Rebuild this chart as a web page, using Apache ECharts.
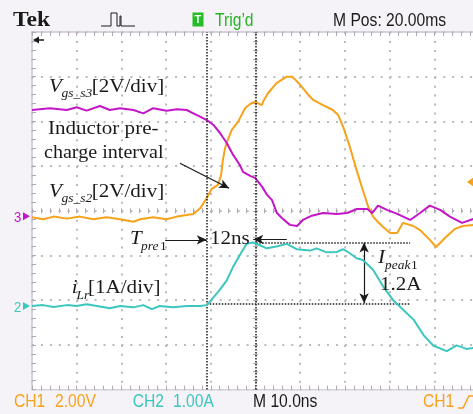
<!DOCTYPE html>
<html>
<head>
<meta charset="utf-8">
<script src="https://cdn.jsdelivr.net/npm/echarts@6/dist/echarts.min.js"></script>
<style>
  html, body { margin: 0; padding: 0; background: #ffffff; }
  #chart { width: 473px; height: 414px; }
</style>
</head>
<body>
<div id="chart"></div>
<script>
// scope setup (positions are in divisions from screen centre)
const ch1VoltsPerDiv = 2;   // Vgs_s2 (orange)
const ch2AmpsPerDiv = 1;    // iLr (cyan)
const ch3VoltsPerDiv = 2;   // Vgs_s3 (magenta)
const ch1Ground = -0.12;
const ch2Ground = -2.13;
const ch3Ground = -0.12;
const trigLevel = 1.53;     // V, ch1

// time axis in ns relative to screen centre, 10 ns/div
const tS3 = [-50, -46.0, -42.2, -40.0, -37.8, -34.8, -32.6, -30.3, -27.3, -25.1, -22.9, -19.9, -17.6, -15.4, -13.9, -12.4, -10.9, -9.4, -7.9, -6.4, -5.0, -3.5, -2.8, -1.2, -0.1, 1.5, 2.6, 3.7, 4.8, 5.9, 7.7, 9.3, 10.6, 12.6, 15.1, 18.2, 20.5, 22.7, 25.0, 26.1, 27.4, 29.4, 31.7, 34.6, 36.8, 39.0, 41.3, 43.5, 46.2, 48.7, 50.0];
const vgsS3 = [4.75, 4.83, 4.75, 4.87, 4.72, 4.93, 4.75, 4.83, 4.75, 4.60, 4.83, 4.72, 4.78, 4.75, 4.60, 4.45, 4.30, 4.08, 3.71, 3.26, 2.74, 2.29, 1.98, 1.80, 1.71, 1.31, 0.95, 0.72, 0.14, -0.08, -0.39, -0.44, -0.17, 0.02, 0.14, 0.10, 0.14, 0.32, 0.32, 0.14, 0.47, 0.28, 0.10, -0.17, 0.14, 0.47, 0.28, -0.02, -0.30, -0.13, -0.08];

const tS2 = [-50, -47.5, -45.2, -42.2, -39.3, -36.3, -33.3, -30.3, -27.3, -25.8, -22.9, -19.9, -17.6, -15.4, -13.9, -12.4, -10.9, -9.8, -8.4, -7.7, -7.3, -6.8, -6.2, -5.3, -3.9, -2.3, -1.2, -0.1, 1.4, 1.9, 2.8, 4.7, 7.0, 8.2, 8.8, 10.0, 11.5, 12.9, 15.1, 17.3, 18.5, 19.6, 21.1, 22.6, 24.0, 25.2, 26.3, 27.4, 28.5, 30.1, 31.7, 33.0, 35.3, 36.8, 39.0, 40.4, 42.6, 44.6, 46.4, 48.7, 50.0];
const vgsS2 = [-0.05, -0.14, -0.02, -0.11, -0.02, -0.14, -0.05, -0.14, -0.25, -0.14, -0.05, -0.14, -0.02, 0.05, 0.10, 0.35, 0.81, 1.22, 1.40, 1.84, 2.51, 3.05, 3.41, 3.86, 4.23, 4.84, 5.02, 5.12, 4.97, 5.20, 5.50, 5.95, 6.24, 6.24, 6.13, 5.87, 5.50, 5.20, 4.97, 4.75, 4.53, 4.00, 3.11, 2.07, 1.17, 0.43, -0.02, -0.26, -0.47, -0.75, -0.75, -0.30, -0.44, -0.62, -1.06, -1.38, -0.93, -0.57, -0.44, -0.39, -0.39];

const tLr = [-50, -47.5, -45.2, -42.2, -40.0, -37.8, -35.5, -32.6, -30.3, -27.3, -25.1, -23.2, -21.4, -18.4, -15.4, -12.4, -10.9, -10.2, -8.0, -6.4, -5.0, -3.5, -2.0, -0.6, 1.0, 2.5, 4.7, 7.0, 9.2, 12.2, 13.7, 15.9, 18.2, 19.6, 21.1, 22.6, 24.0, 26.3, 28.6, 30.8, 33.1, 35.4, 37.6, 39.8, 42.8, 45.0, 47.2, 48.7, 50.0];
const iLr = [0, 0.02, -0.02, 0.02, 0, 0.04, 0, -0.05, 0, -0.03, 0.02, -0.07, 0, -0.03, 0, 0, 0.02, 0.10, 0.36, 0.58, 0.88, 1.14, 1.39, 1.42, 1.36, 1.29, 1.33, 1.39, 1.27, 1.24, 1.29, 1.20, 1.21, 1.27, 1.18, 1.07, 1.03, 0.81, 0.43, 0.13, -0.09, -0.31, -0.65, -0.89, -1.01, -0.88, -0.96, -0.94, -0.94];

// cursors / annotations (ns, A or V)
const cursorT = [-10.9, 0];
const iPeakLevel = 1.42;
const iBaseLevel = 0.06;
const levelEndT = 34.6;
const peakArrowT = 24.3;
const tpreArrowL = [-20.2, -10.9, 1.48];  // from, to, level (A)
const tpreArrowR = [7.0, -0.5, 1.49];
const inductorArrow = [[-16.9, 2.37], [-5.9, 1.25]]; // ch1 volts

const d1 = v => ch1Ground + v / ch1VoltsPerDiv;
const d2 = a => ch2Ground + a / ch2AmpsPerDiv;
const d3 = v => ch3Ground + v / ch3VoltsPerDiv;

const ORANGE = '#f7a21b', CYAN = '#3cc6c0', MAGENTA = '#c316c9', INK = '#1a1a1a';
const FRAME = '#f6f3f8', TICK = '#b0a9b5';
const DIV = 44.7;

const chart = echarts.init(document.getElementById('chart'));

// graticule: four stacked grids on the same rect, one x and one y axis each
// 0 = bottom/left border + dots, 1 = top/right border, 2 and 3 = centre cross
const screen = { left: 32, top: 32, width: DIV * 10, height: DIV * 8, outerBoundsMode: 'none' };
const grids = [0, 1, 2, 3].map(() => Object.assign({}, screen));

function gAxis(dim, grid, pos, onZero, inside, len) {
  const a = {
    gridIndex: grid, type: 'value', position: pos,
    min: dim === 'x' ? -50 : -4, max: dim === 'x' ? 50 : 4, interval: dim === 'x' ? 10 : 1,
    axisLine: { show: !onZero, onZero: onZero, lineStyle: { color: '#c9c2ce', width: 1.5 } },
    axisTick: { show: true, inside: inside, length: len, lineStyle: { color: TICK } },
    minorTick: { show: true, splitNumber: 5, length: len, lineStyle: { color: TICK } },
    axisLabel: { show: false },
    splitLine: { show: false }
  };
  if (grid === 0) a.splitLine = { show: true, lineStyle: { color: '#bababa', width: 2, type: [2, DIV / 5 - 2] } };
  return a;
}
const xAxes = [gAxis('x', 0, 'bottom', false, true, 4), gAxis('x', 1, 'top', false, true, 4),
               gAxis('x', 2, 'bottom', true, false, 2.5), gAxis('x', 3, 'top', true, false, 2.5)];
const yAxes = [gAxis('y', 0, 'left', false, true, 4), gAxis('y', 1, 'right', false, true, 4),
               gAxis('y', 2, 'left', true, false, 2.5), gAxis('y', 3, 'right', true, false, 2.5)];

const lineBlack = { color: INK, width: 1.2, type: 'solid' };
const arrowEnd = (a, b) => [{ coord: a, symbol: 'none' }, { coord: b, symbol: 'arrow', symbolSize: [7, 10] }];

const option = {
  animation: false,
  backgroundColor: '#ffffff',
  grid: grids,
  xAxis: xAxes,
  yAxis: yAxes,
  series: [
    {
      name: 'Vgs_s2', type: 'line', showSymbol: false, z: 3,
      lineStyle: { color: ORANGE, width: 2 }, itemStyle: { color: ORANGE },
      data: tS2.map((t, i) => [t, d1(vgsS2[i])])
    },
    {
      name: 'Vgs_s3', type: 'line', showSymbol: false, z: 4,
      lineStyle: { color: MAGENTA, width: 2 }, itemStyle: { color: MAGENTA },
      data: tS3.map((t, i) => [t, d3(vgsS3[i])])
    },
    {
      name: 'iLr', type: 'line', showSymbol: false, z: 5,
      lineStyle: { color: CYAN, width: 2 }, itemStyle: { color: CYAN },
      data: tLr.map((t, i) => [t, d2(iLr[i])]),
      markLine: {
        silent: true, symbol: 'none', label: { show: false },
        lineStyle: { color: INK, width: 1.5, type: [1.5, 1.5] },
        data: [
          { xAxis: cursorT[0] },
          { xAxis: cursorT[1] },
          [{ coord: [cursorT[1] - 0.5, d2(iPeakLevel)] }, { coord: [levelEndT, d2(iPeakLevel)] }],
          [{ coord: [cursorT[0], d2(iBaseLevel)] }, { coord: [levelEndT, d2(iBaseLevel)] }],
          [{ coord: [peakArrowT, d2(iPeakLevel)], symbol: 'arrow', symbolSize: [7, 10] },
           { coord: [peakArrowT, d2(iBaseLevel)], symbol: 'arrow', symbolSize: [7, 10] }],
          arrowEnd([tpreArrowL[0], d2(tpreArrowL[2])], [tpreArrowL[1], d2(tpreArrowL[2])]),
          arrowEnd([tpreArrowR[0], d2(tpreArrowR[2])], [tpreArrowR[1], d2(tpreArrowR[2])]),
          arrowEnd([inductorArrow[0][0], d1(inductorArrow[0][1])], [inductorArrow[1][0], d1(inductorArrow[1][1])])
        ].map((d, i) => {
          if (i >= 4) d[0].lineStyle = lineBlack;
          return d;
        })
      }
    }
  ]
};
chart.setOption(option);

// texts and screen furniture
function txt(str, x, base, size, o) {
  o = o || {};
  return {
    type: 'text', x: x, y: base - 0.34 * size, scaleX: o.sx || 1, z: 20,
    style: {
      text: str, fill: o.fill || INK, align: 'left', verticalAlign: 'middle',
      font: (o.italic ? 'italic ' : '') + (o.bold ? 'bold ' : '') + size + 'px ' + (o.family || '"Liberation Serif", serif')
    }
  };
}
const SER = { sx: 1.08 };
const SERI = { sx: 1.08, italic: true };
const SANS = { family: '"Liberation Sans", Arial, sans-serif', sx: 0.87 };
const sans = c => Object.assign({}, SANS, { fill: c });

const px = (t, d) => chart.convertToPixel({ xAxisIndex: 0, yAxisIndex: 0 }, [t, d]);
const g3 = px(-50, d3(0)), g2 = px(-50, d2(0)), trg = px(50, d1(trigLevel));
const tri = (x, y, dir, c) => ({
  type: 'polygon', z: 20, shape: { points: dir > 0 ? [[x, y - 4], [x + 7, y], [x, y + 4]] : [[x, y - 5], [x - 7, y], [x, y + 5]] },
  style: { fill: c }
});
const band = (x, y, w, h) => ({ type: 'rect', z: 1, shape: { x: x, y: y, width: w, height: h }, style: { fill: FRAME } });

const graphic = [
  // tinted frame round the screen
  band(0, 0, 473, 31), band(0, 31, 31, 360), band(0, 390.5, 473, 24),
  // header
  txt('Tek', 13, 27.3, 21, { bold: true, sx: 1.12 }),
  { type: 'polyline', z: 20, shape: { points: [[101, 26], [111, 26], [111, 13], [117, 13], [117, 26], [120, 26], [120, 16], [121, 16], [121, 26], [135, 26]] },
    style: { stroke: INK, lineWidth: 1, fill: null } },
  { type: 'rect', z: 20, shape: { x: 192.5, y: 12.5, width: 11, height: 14 }, style: { fill: '#25bd25' } },
  txt('T', 194.5, 24, 11, { fill: '#fff', bold: true, family: '"Liberation Sans", sans-serif' }),
  txt('Trig\u2019d', 215, 26.7, 18, sans('#22b522')),
  txt('M Pos: 20.00ms', 333, 26.7, 18, sans(INK)),
  // footer
  txt('CH1', 14, 408.3, 18, sans(ORANGE)),
  txt('2.00V', 55, 408.3, 18, sans(ORANGE)),
  txt('CH2', 132.7, 408.3, 18, sans(CYAN)),
  txt('1.00A', 173, 408.3, 18, sans(CYAN)),
  txt('M 10.0ns', 253, 408.3, 18, sans(INK)),
  txt('CH1', 423, 408.3, 18, sans(ORANGE)),
  { type: 'polyline', z: 20, shape: { points: [[458, 408], [463, 408], [469, 396], [475, 396]] }, style: { stroke: ORANGE, lineWidth: 1.5, fill: null } },
  // ground / trigger markers
  txt('3', 14, g3[1] + 6.5, 15, sans(MAGENTA)),
  tri(23, g3[1], 1, MAGENTA),
  txt('2', 14, g2[1] + 6.5, 15, sans(CYAN)),
  tri(23, g2[1], 1, CYAN),
  tri(474, trg[1], -1, ORANGE),
  { type: 'polygon', z: 20, shape: { points: [[33, 40], [39, 36.5], [39, 43.5]] }, style: { fill: INK } },
  { type: 'line', z: 20, shape: { x1: 36, y1: 40, x2: 44, y2: 40 }, style: { stroke: INK, lineWidth: 1.5 } },
  // annotations
  txt('V', 49, 93.3, 19.5, SERI), txt('gs_s3', 61.5, 98, 12.5, SERI), txt('[2V/div]', 91.7, 93.3, 19.5, SER),
  txt('Inductor pre-', 48, 136, 19.5, SER),
  txt('charge interval', 44, 160, 19.5, { sx: 1.03 }),
  txt('V', 49, 198.3, 19.5, SERI), txt('gs_s2', 61.5, 203, 12.5, SERI), txt('[2V/div]', 91.7, 198.3, 19.5, SER),
  txt('T', 130, 246, 19.5, SERI), txt('pre', 141, 251, 12.5, SERI), txt('1', 160, 251, 12.5, SER),
  txt('12ns', 210, 246, 19.5, SER),
  txt('i', 71.7, 295, 19.5, SERI), txt('Lr', 76.5, 299.5, 12.5, SERI), txt('[1A/div]', 88, 295, 19.5, SER),
  txt('I', 378, 265, 19.5, SERI), txt('peak', 385, 270, 12.5, SERI), txt('1', 411, 270, 12.5, SER),
  txt('1.2A', 380, 291.7, 19.5, SER)
];
chart.setOption({ graphic: graphic });
</script>
</body>
</html>
